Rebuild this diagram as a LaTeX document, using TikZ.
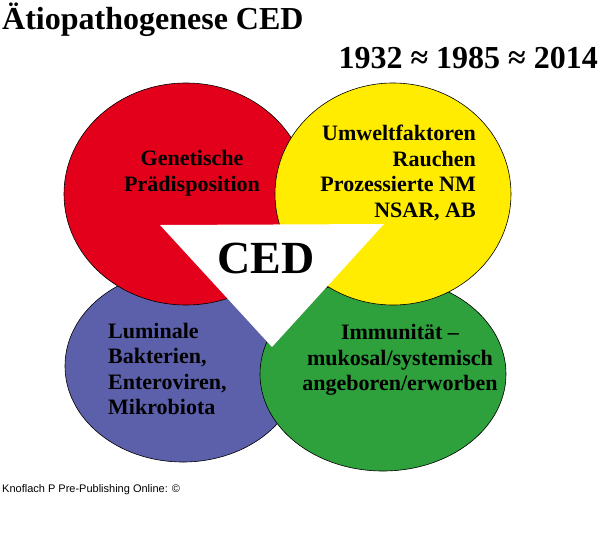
\documentclass[tikz,border=0pt]{standalone}
\usepackage{fontspec}
\usetikzlibrary{shapes.geometric}
\setmainfont{Liberation Serif}
\newfontfamily\arialf{Liberation Sans}
\begin{document}
\begin{tikzpicture}[x=1pt,y=-1pt,
  blob/.style={draw=black,line width=0.6pt,ellipse,inner sep=0pt},
  lbl/.style={font=\bfseries\fontsize{22}{25.5}\selectfont,align=center,inner sep=0pt}]
\useasboundingbox (0,0) rectangle (600,539);
\definecolor{cred}{RGB}{226,0,26}
\definecolor{cyel}{RGB}{255,236,0}
\definecolor{cgrn}{RGB}{46,160,60}
\definecolor{cblu}{RGB}{92,96,170}
\node[blob,fill=cblu,minimum width=236pt,minimum height=192pt] (b) at (183,366) {};
\node[blob,fill=cgrn,minimum width=246pt,minimum height=194pt] (g) at (383,374) {};
\node[blob,fill=cred,minimum width=244pt,minimum height=222pt] (r) at (186,194) {};
\node[blob,fill=cyel,minimum width=236pt,minimum height=222pt] (y) at (393,194) {};
\coordinate (t1) at (160,225); \coordinate (t2) at (384,224); \coordinate (t3) at (272,347);
\fill[white] (t1) -- (t2) -- (t3) -- cycle;
\node[font=\bfseries\fontsize{46}{46}\selectfont,inner sep=0pt] (ced) at (266,258) {CED};
\node[lbl] (rt) at (192,173) {Genetische\\Prädisposition};
\node[lbl,align=right,anchor=east] (yt) at (476,173) {Umweltfaktoren\\Rauchen\\Prozessierte NM\\NSAR, AB};
\node[lbl] (gt) at (400,360) {Immunität –\\mukosal/systemisch\\angeboren/erworben};
\node[lbl,align=left,anchor=west] (bt) at (108,369) {Luminale\\Bakterien,\\Enteroviren,\\Mikrobiota};
\node[font=\bfseries\fontsize{32}{32}\selectfont,anchor=west,inner sep=0pt] (title) at (2,20) {Ätiopathogenese CED};
\node[font=\bfseries\fontsize{32}{32}\selectfont,anchor=east,inner sep=0pt] (dates) at (598,58) {1932 ≈ 1985 ≈ 2014};
\node[font=\arialf\fontsize{11}{11}\selectfont,anchor=west,inner sep=0pt] (foot) at (2,490) {Knoflach P Pre-Publishing Online: ©};
\end{tikzpicture}
\end{document}
